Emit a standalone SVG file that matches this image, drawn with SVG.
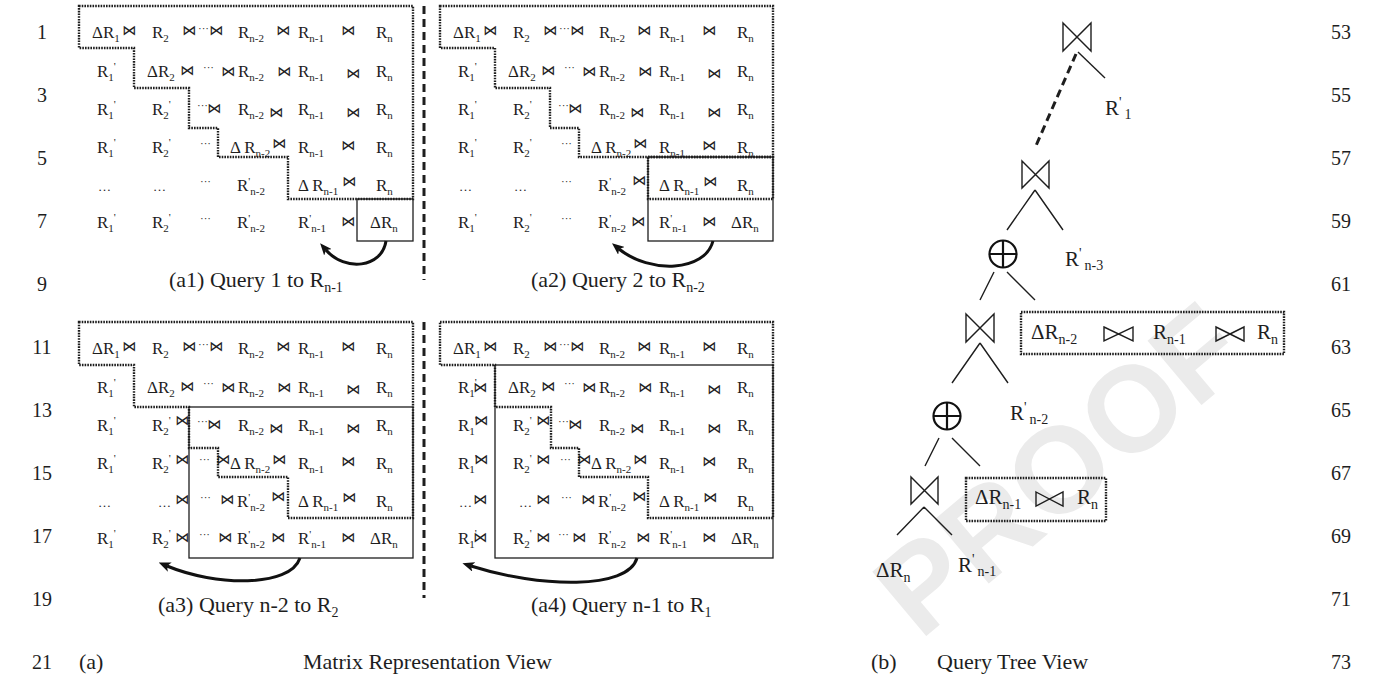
<svg xmlns="http://www.w3.org/2000/svg" width="1390" height="676" viewBox="0 0 1390 676">
<defs>
<style>
text{font-family:"Liberation Serif","Times New Roman",serif;fill:#1e1e1e}
.mx text{font-size:17px}
.s{font-size:11px}
.j{font-family:"DejaVu Sans",sans-serif!important;font-size:14px!important}
.d{font-size:11px!important}
.e{font-size:13px!important}
.dot{fill:none;stroke:#1e1e1e;stroke-width:2.4;stroke-dasharray:1.6 1.1}
.sol{fill:none;stroke:#1e1e1e;stroke-width:1.3}
.sep{fill:none;stroke:#1e1e1e;stroke-width:3;stroke-dasharray:8 5}
.arr{fill:none;stroke:#111;stroke-width:3;marker-end:url(#ah)}
.edge{fill:none;stroke:#1e1e1e;stroke-width:1.4}
.bt{fill:none;stroke:#1e1e1e;stroke-width:1.4;stroke-linejoin:miter}
.op{fill:none;stroke:#111;stroke-width:2.2}
.ln{font-size:20px}
.mx .cap,.cap{font-size:22px}
.tr{font-size:21px}
.s2{font-size:14px}
</style>
<marker id="ah" viewBox="0 0 12 10" refX="3" refY="5" markerWidth="12" markerHeight="10" markerUnits="userSpaceOnUse" orient="auto">
<path d="M0,0L12,5L0,10L3,5Z" fill="#111"/>
</marker>
</defs>
<rect width="1390" height="676" fill="#fff"/>
<text x="1058" y="512" text-anchor="middle" transform="rotate(-40 1058 468)" style="font-family:'Liberation Sans',Arial,sans-serif;font-size:122px;font-weight:bold;fill:#ebebeb">PROOF</text>

<g id="line-numbers">
<text class="ln" x="42" y="39" text-anchor="middle">1</text>
<text class="ln" x="42" y="102" text-anchor="middle">3</text>
<text class="ln" x="42" y="165" text-anchor="middle">5</text>
<text class="ln" x="42" y="228" text-anchor="middle">7</text>
<text class="ln" x="42" y="291" text-anchor="middle">9</text>
<text class="ln" x="42" y="354" text-anchor="middle">11</text>
<text class="ln" x="42" y="417" text-anchor="middle">13</text>
<text class="ln" x="42" y="480" text-anchor="middle">15</text>
<text class="ln" x="42" y="543" text-anchor="middle">17</text>
<text class="ln" x="42" y="606" text-anchor="middle">19</text>
<text class="ln" x="42" y="669" text-anchor="middle">21</text>
<text class="ln" x="1341" y="39" text-anchor="middle">53</text>
<text class="ln" x="1341" y="102" text-anchor="middle">55</text>
<text class="ln" x="1341" y="165" text-anchor="middle">57</text>
<text class="ln" x="1341" y="228" text-anchor="middle">59</text>
<text class="ln" x="1341" y="291" text-anchor="middle">61</text>
<text class="ln" x="1341" y="354" text-anchor="middle">63</text>
<text class="ln" x="1341" y="417" text-anchor="middle">65</text>
<text class="ln" x="1341" y="480" text-anchor="middle">67</text>
<text class="ln" x="1341" y="543" text-anchor="middle">69</text>
<text class="ln" x="1341" y="606" text-anchor="middle">71</text>
<text class="ln" x="1341" y="669" text-anchor="middle">73</text>
</g>

<!-- a1 -->
<g id="matrix-a1" class="mx">
<path class="dot" d="M79,6H413V199H288V157H218V128H189V88H134V48H79Z"/>
<rect class="sol" x="357" y="199" width="56" height="42"/>
<text x="92" y="38">ΔR<tspan class="s" dy="4">1</tspan></text><text class="j" x="122" y="35">⋈</text><text x="152" y="38">R<tspan class="s" dy="4">2</tspan></text><text class="j" x="182" y="35">⋈</text><text class="d" x="198" y="32">···</text><text class="j" x="209" y="35">⋈</text><text x="238" y="38">R<tspan class="s" dy="4">n-2</tspan></text><text class="j" x="276" y="35">⋈</text><text x="298" y="38">R<tspan class="s" dy="4">n-1</tspan></text><text class="j" x="341" y="35">⋈</text><text x="376" y="38">R<tspan class="s" dy="4">n</tspan></text>
<text x="97" y="77">R<tspan class="s" dy="4">1</tspan><tspan class="s" dy="-11">'</tspan></text><text x="147" y="77">ΔR<tspan class="s" dy="4">2</tspan></text><text class="j" x="180" y="75">⋈</text><text class="d" x="203" y="71">···</text><text class="j" x="221" y="76">⋈</text><text x="238" y="77">R<tspan class="s" dy="4">n-2</tspan></text><text class="j" x="277" y="76">⋈</text><text x="298" y="77">R<tspan class="s" dy="4">n-1</tspan></text><text class="j" x="346" y="78">⋈</text><text x="376" y="77">R<tspan class="s" dy="4">n</tspan></text>
<text x="97" y="115">R<tspan class="s" dy="4">1</tspan><tspan class="s" dy="-11">'</tspan></text><text x="152" y="115">R<tspan class="s" dy="4">2</tspan><tspan class="s" dy="-11">'</tspan></text><text class="d" x="197" y="109">···</text><text class="j" x="207" y="113">⋈</text><text x="238" y="115">R<tspan class="s" dy="4">n-2</tspan></text><text class="j" x="269" y="117">⋈</text><text x="298" y="115">R<tspan class="s" dy="4">n-1</tspan></text><text class="j" x="346" y="117">⋈</text><text x="376" y="115">R<tspan class="s" dy="4">n</tspan></text>
<text x="97" y="153">R<tspan class="s" dy="4">1</tspan><tspan class="s" dy="-11">'</tspan></text><text x="152" y="153">R<tspan class="s" dy="4">2</tspan><tspan class="s" dy="-11">'</tspan></text><text class="d" x="200" y="147">···</text><text x="230" y="153">Δ R<tspan class="s" dy="4">n-2</tspan></text><text class="j" x="272" y="148">⋈</text><text x="298" y="153">R<tspan class="s" dy="4">n-1</tspan></text><text class="j" x="341" y="150">⋈</text><text x="376" y="153">R<tspan class="s" dy="4">n</tspan></text>
<text class="e" x="98" y="191">…</text><text class="e" x="153" y="191">…</text><text class="d" x="200" y="185">···</text><text x="237" y="191">R<tspan class="s" dy="-6">'</tspan><tspan class="s" dy="10">n-2</tspan></text><text x="298" y="191">Δ R<tspan class="s" dy="4">n-1</tspan></text><text class="j" x="342" y="186">⋈</text><text x="376" y="191">R<tspan class="s" dy="4">n</tspan></text>
<text x="97" y="228">R<tspan class="s" dy="4">1</tspan><tspan class="s" dy="-11">'</tspan></text><text x="152" y="228">R<tspan class="s" dy="4">2</tspan><tspan class="s" dy="-11">'</tspan></text><text class="d" x="200" y="222">···</text><text x="237" y="228">R<tspan class="s" dy="-6">'</tspan><tspan class="s" dy="10">n-2</tspan></text><text x="298" y="228">R<tspan class="s" dy="-6">'</tspan><tspan class="s" dy="10">n-1</tspan></text><text class="j" x="341" y="226">⋈</text><text x="370" y="228">ΔR<tspan class="s" dy="4">n</tspan></text>
<text class="cap" x="169" y="287">(a1) Query 1 to R<tspan class="s2" dy="5">n-1</tspan></text>
</g>

<!-- a2 -->
<g id="matrix-a2" class="mx" transform="translate(361,0)">
<path class="dot" d="M79,6H412V157H218V128H189V88H134V48H79Z"/>
<rect class="dot" x="287" y="157" width="125" height="42"/>
<rect class="sol" x="287" y="157" width="125" height="84"/>
<text x="92" y="38">ΔR<tspan class="s" dy="4">1</tspan></text><text class="j" x="122" y="35">⋈</text><text x="152" y="38">R<tspan class="s" dy="4">2</tspan></text><text class="j" x="182" y="35">⋈</text><text class="d" x="198" y="32">···</text><text class="j" x="209" y="35">⋈</text><text x="238" y="38">R<tspan class="s" dy="4">n-2</tspan></text><text class="j" x="276" y="35">⋈</text><text x="298" y="38">R<tspan class="s" dy="4">n-1</tspan></text><text class="j" x="341" y="35">⋈</text><text x="376" y="38">R<tspan class="s" dy="4">n</tspan></text>
<text x="97" y="77">R<tspan class="s" dy="4">1</tspan><tspan class="s" dy="-11">'</tspan></text><text x="147" y="77">ΔR<tspan class="s" dy="4">2</tspan></text><text class="j" x="180" y="75">⋈</text><text class="d" x="203" y="71">···</text><text class="j" x="221" y="76">⋈</text><text x="238" y="77">R<tspan class="s" dy="4">n-2</tspan></text><text class="j" x="277" y="76">⋈</text><text x="298" y="77">R<tspan class="s" dy="4">n-1</tspan></text><text class="j" x="346" y="78">⋈</text><text x="376" y="77">R<tspan class="s" dy="4">n</tspan></text>
<text x="97" y="115">R<tspan class="s" dy="4">1</tspan><tspan class="s" dy="-11">'</tspan></text><text x="152" y="115">R<tspan class="s" dy="4">2</tspan><tspan class="s" dy="-11">'</tspan></text><text class="d" x="197" y="109">···</text><text class="j" x="207" y="113">⋈</text><text x="238" y="115">R<tspan class="s" dy="4">n-2</tspan></text><text class="j" x="269" y="117">⋈</text><text x="298" y="115">R<tspan class="s" dy="4">n-1</tspan></text><text class="j" x="346" y="117">⋈</text><text x="376" y="115">R<tspan class="s" dy="4">n</tspan></text>
<text x="97" y="153">R<tspan class="s" dy="4">1</tspan><tspan class="s" dy="-11">'</tspan></text><text x="152" y="153">R<tspan class="s" dy="4">2</tspan><tspan class="s" dy="-11">'</tspan></text><text class="d" x="200" y="147">···</text><text x="230" y="153">Δ R<tspan class="s" dy="4">n-2</tspan></text><text class="j" x="272" y="148">⋈</text><text x="298" y="153">R<tspan class="s" dy="4">n-1</tspan></text><text class="j" x="341" y="150">⋈</text><text x="376" y="153">R<tspan class="s" dy="4">n</tspan></text>
<text class="e" x="98" y="191">…</text><text class="e" x="153" y="191">…</text><text class="d" x="200" y="185">···</text><text x="237" y="191">R<tspan class="s" dy="-6">'</tspan><tspan class="s" dy="10">n-2</tspan></text><text class="j" x="271" y="185">⋈</text><text x="298" y="191">Δ R<tspan class="s" dy="4">n-1</tspan></text><text class="j" x="342" y="186">⋈</text><text x="376" y="191">R<tspan class="s" dy="4">n</tspan></text>
<text x="97" y="228">R<tspan class="s" dy="4">1</tspan><tspan class="s" dy="-11">'</tspan></text><text x="152" y="228">R<tspan class="s" dy="4">2</tspan><tspan class="s" dy="-11">'</tspan></text><text class="d" x="200" y="222">···</text><text x="237" y="228">R<tspan class="s" dy="-6">'</tspan><tspan class="s" dy="10">n-2</tspan></text><text class="j" x="270" y="226">⋈</text><text x="298" y="228">R<tspan class="s" dy="-6">'</tspan><tspan class="s" dy="10">n-1</tspan></text><text class="j" x="341" y="226">⋈</text><text x="370" y="228">ΔR<tspan class="s" dy="4">n</tspan></text>
<text class="cap" x="170" y="287">(a2) Query 2 to R<tspan class="s2" dy="5">n-2</tspan></text>
</g>

<!-- a3 -->
<g id="matrix-a3" class="mx" transform="translate(0,316)">
<path class="dot" d="M79,6H413V202H288V161H218V132H189V91H134V49H79Z"/>
<rect class="sol" x="189" y="91" width="224" height="151"/>
<text x="92" y="38">ΔR<tspan class="s" dy="4">1</tspan></text><text class="j" x="122" y="35">⋈</text><text x="152" y="38">R<tspan class="s" dy="4">2</tspan></text><text class="j" x="182" y="35">⋈</text><text class="d" x="198" y="32">···</text><text class="j" x="209" y="35">⋈</text><text x="238" y="38">R<tspan class="s" dy="4">n-2</tspan></text><text class="j" x="276" y="35">⋈</text><text x="298" y="38">R<tspan class="s" dy="4">n-1</tspan></text><text class="j" x="341" y="35">⋈</text><text x="376" y="38">R<tspan class="s" dy="4">n</tspan></text>
<text x="97" y="77">R<tspan class="s" dy="4">1</tspan><tspan class="s" dy="-11">'</tspan></text><text x="147" y="77">ΔR<tspan class="s" dy="4">2</tspan></text><text class="j" x="180" y="75">⋈</text><text class="d" x="203" y="71">···</text><text class="j" x="221" y="76">⋈</text><text x="238" y="77">R<tspan class="s" dy="4">n-2</tspan></text><text class="j" x="277" y="76">⋈</text><text x="298" y="77">R<tspan class="s" dy="4">n-1</tspan></text><text class="j" x="346" y="78">⋈</text><text x="376" y="77">R<tspan class="s" dy="4">n</tspan></text>
<text x="97" y="115">R<tspan class="s" dy="4">1</tspan><tspan class="s" dy="-11">'</tspan></text><text x="152" y="115">R<tspan class="s" dy="4">2</tspan><tspan class="s" dy="-11">'</tspan></text><text class="j" x="175" y="109">⋈</text><text class="d" x="197" y="109">···</text><text class="j" x="207" y="113">⋈</text><text x="238" y="115">R<tspan class="s" dy="4">n-2</tspan></text><text class="j" x="269" y="117">⋈</text><text x="298" y="115">R<tspan class="s" dy="4">n-1</tspan></text><text class="j" x="346" y="117">⋈</text><text x="376" y="115">R<tspan class="s" dy="4">n</tspan></text>
<text x="97" y="153">R<tspan class="s" dy="4">1</tspan><tspan class="s" dy="-11">'</tspan></text><text x="152" y="153">R<tspan class="s" dy="4">2</tspan><tspan class="s" dy="-11">'</tspan></text><text class="j" x="175" y="148">⋈</text><text class="d" x="199" y="147">···</text><text class="j" x="216" y="148">⋈</text><text x="230" y="153">Δ R<tspan class="s" dy="4">n-2</tspan></text><text class="j" x="272" y="148">⋈</text><text x="298" y="153">R<tspan class="s" dy="4">n-1</tspan></text><text class="j" x="341" y="150">⋈</text><text x="376" y="153">R<tspan class="s" dy="4">n</tspan></text>
<text class="e" x="98" y="191">…</text><text class="e" x="158" y="191">…</text><text class="j" x="175" y="188">⋈</text><text class="d" x="200" y="185">···</text><text class="j" x="220" y="188">⋈</text><text x="237" y="191">R<tspan class="s" dy="-6">'</tspan><tspan class="s" dy="10">n-2</tspan></text><text class="j" x="271" y="185">⋈</text><text x="298" y="191">Δ R<tspan class="s" dy="4">n-1</tspan></text><text class="j" x="342" y="186">⋈</text><text x="376" y="191">R<tspan class="s" dy="4">n</tspan></text>
<text x="97" y="228">R<tspan class="s" dy="4">1</tspan><tspan class="s" dy="-11">'</tspan></text><text x="152" y="228">R<tspan class="s" dy="4">2</tspan><tspan class="s" dy="-11">'</tspan></text><text class="j" x="175" y="226">⋈</text><text class="d" x="199" y="222">···</text><text class="j" x="218" y="226">⋈</text><text x="237" y="228">R<tspan class="s" dy="-6">'</tspan><tspan class="s" dy="10">n-2</tspan></text><text class="j" x="271" y="226">⋈</text><text x="298" y="228">R<tspan class="s" dy="-6">'</tspan><tspan class="s" dy="10">n-1</tspan></text><text class="j" x="341" y="226">⋈</text><text x="370" y="228">ΔR<tspan class="s" dy="4">n</tspan></text>
<text class="cap" x="158" y="296">(a3) Query n-2 to R<tspan class="s2" dy="5">2</tspan></text>
</g>

<!-- a4 -->
<g id="matrix-a4" class="mx" transform="translate(361,316)">
<path class="dot" d="M79,6H412V202H287V161H218V132H190V91H134V49H79Z"/>
<rect class="sol" x="134" y="49" width="278" height="193"/>
<text x="92" y="38">ΔR<tspan class="s" dy="4">1</tspan></text><text class="j" x="122" y="35">⋈</text><text x="152" y="38">R<tspan class="s" dy="4">2</tspan></text><text class="j" x="182" y="35">⋈</text><text class="d" x="198" y="32">···</text><text class="j" x="209" y="35">⋈</text><text x="238" y="38">R<tspan class="s" dy="4">n-2</tspan></text><text class="j" x="276" y="35">⋈</text><text x="298" y="38">R<tspan class="s" dy="4">n-1</tspan></text><text class="j" x="341" y="35">⋈</text><text x="376" y="38">R<tspan class="s" dy="4">n</tspan></text>
<text x="97" y="77">R<tspan class="s" dy="4">1</tspan><tspan class="s" dy="-11">'</tspan></text><text class="j" x="112" y="76">⋈</text><text x="147" y="77">ΔR<tspan class="s" dy="4">2</tspan></text><text class="j" x="180" y="75">⋈</text><text class="d" x="203" y="71">···</text><text class="j" x="221" y="76">⋈</text><text x="238" y="77">R<tspan class="s" dy="4">n-2</tspan></text><text class="j" x="277" y="76">⋈</text><text x="298" y="77">R<tspan class="s" dy="4">n-1</tspan></text><text class="j" x="346" y="78">⋈</text><text x="376" y="77">R<tspan class="s" dy="4">n</tspan></text>
<text x="97" y="115">R<tspan class="s" dy="4">1</tspan><tspan class="s" dy="-11">'</tspan></text><text class="j" x="113" y="109">⋈</text><text x="152" y="115">R<tspan class="s" dy="4">2</tspan><tspan class="s" dy="-11">'</tspan></text><text class="j" x="175" y="109">⋈</text><text class="d" x="197" y="109">···</text><text class="j" x="207" y="113">⋈</text><text x="238" y="115">R<tspan class="s" dy="4">n-2</tspan></text><text class="j" x="269" y="117">⋈</text><text x="298" y="115">R<tspan class="s" dy="4">n-1</tspan></text><text class="j" x="346" y="117">⋈</text><text x="376" y="115">R<tspan class="s" dy="4">n</tspan></text>
<text x="97" y="153">R<tspan class="s" dy="4">1</tspan><tspan class="s" dy="-11">'</tspan></text><text class="j" x="113" y="148">⋈</text><text x="152" y="153">R<tspan class="s" dy="4">2</tspan><tspan class="s" dy="-11">'</tspan></text><text class="j" x="175" y="148">⋈</text><text class="d" x="199" y="147">···</text><text class="j" x="216" y="148">⋈</text><text x="230" y="153">Δ R<tspan class="s" dy="4">n-2</tspan></text><text class="j" x="272" y="148">⋈</text><text x="298" y="153">R<tspan class="s" dy="4">n-1</tspan></text><text class="j" x="341" y="150">⋈</text><text x="376" y="153">R<tspan class="s" dy="4">n</tspan></text>
<text class="e" x="98" y="191">…</text><text class="j" x="112" y="188">⋈</text><text class="e" x="158" y="191">…</text><text class="j" x="175" y="188">⋈</text><text class="d" x="200" y="185">···</text><text class="j" x="220" y="188">⋈</text><text x="237" y="191">R<tspan class="s" dy="-6">'</tspan><tspan class="s" dy="10">n-2</tspan></text><text class="j" x="271" y="185">⋈</text><text x="298" y="191">Δ R<tspan class="s" dy="4">n-1</tspan></text><text class="j" x="342" y="186">⋈</text><text x="376" y="191">R<tspan class="s" dy="4">n</tspan></text>
<text x="97" y="228">R<tspan class="s" dy="4">1</tspan><tspan class="s" dy="-11">'</tspan></text><text class="j" x="112" y="226">⋈</text><text x="152" y="228">R<tspan class="s" dy="4">2</tspan><tspan class="s" dy="-11">'</tspan></text><text class="j" x="175" y="226">⋈</text><text class="d" x="197" y="222">···</text><text class="j" x="211" y="226">⋈</text><text x="237" y="228">R<tspan class="s" dy="-6">'</tspan><tspan class="s" dy="10">n-2</tspan></text><text class="j" x="275" y="226">⋈</text><text x="298" y="228">R<tspan class="s" dy="-6">'</tspan><tspan class="s" dy="10">n-1</tspan></text><text class="j" x="341" y="226">⋈</text><text x="370" y="228">ΔR<tspan class="s" dy="4">n</tspan></text>
<text class="cap" x="170" y="296">(a4) Query n-1 to R<tspan class="s2" dy="5">1</tspan></text>
</g>

<g id="labels-bottom">
<text class="cap" x="79" y="669">(a)</text>
<text class="cap" x="303" y="669">Matrix Representation View</text>
<text class="cap" x="871" y="669">(b)</text>
<text class="cap" x="937" y="669">Query Tree View</text>
</g>

<!-- tree nodes -->
<g id="join-top"><path class="bt" d="M1063,23L1091,51L1091,23L1063,51Z"/></g>
<g id="leaf-r1"><text class="tr" x="1105" y="115">R<tspan class="s2" dy="-8">'</tspan><tspan class="s2" dx="3" dy="12">1</tspan></text></g>
<g id="join-2"><path class="bt" d="M1022,161L1049,188L1049,161L1022,188Z"/></g>
<g id="leaf-rn3"><text class="tr" x="1065" y="266">R<tspan class="s2" dy="-8">'</tspan><tspan class="s2" dx="3" dy="12">n-3</tspan></text></g>
<g id="union-1"><circle class="op" cx="1003" cy="254" r="13.5"/><path class="op" d="M1003,240.5V267.5M989.5,254H1016.5"/></g>
<g id="join-3"><path class="bt" d="M966,314L994,342L994,314L966,342Z"/></g>
<g id="delta-box-1">
<rect class="dot" x="1021" y="312" width="263" height="42"/>
<text class="tr" x="1031" y="339">ΔR<tspan class="s2" dy="5">n-2</tspan></text>
<path class="bt" d="M1104,327L1133,341L1133,327L1104,341Z"/>
<text class="tr" x="1153" y="339">R<tspan class="s2" dy="5">n-1</tspan></text>
<path class="bt" d="M1216,327L1244,341L1244,327L1216,341Z"/>
<text class="tr" x="1257" y="339">R<tspan class="s2" dy="5">n</tspan></text>
</g>
<g id="union-2"><circle class="op" cx="947" cy="416" r="13.5"/><path class="op" d="M947,402.5V429.5M933.5,416H960.5"/></g>
<g id="leaf-rn2"><text class="tr" x="1010" y="420">R<tspan class="s2" dy="-8">'</tspan><tspan class="s2" dx="3" dy="12">n-2</tspan></text></g>
<g id="join-4"><path class="bt" d="M911,477L938,504L938,477L911,504Z"/></g>
<g id="delta-box-2">
<rect class="dot" x="966" y="478" width="140" height="43"/>
<text class="tr" x="975" y="504">ΔR<tspan class="s2" dy="5">n-1</tspan></text>
<path class="bt" d="M1036,492L1063,506L1063,492L1036,506Z"/>
<text class="tr" x="1077" y="504">R<tspan class="s2" dy="5">n</tspan></text>
</g>
<g id="leaf-drn"><text class="tr" x="876" y="577">ΔR<tspan class="s2" dy="5">n</tspan></text></g>
<g id="leaf-rn1"><text class="tr" x="958" y="572">R<tspan class="s2" dy="-8">'</tspan><tspan class="s2" dx="3" dy="12">n-1</tspan></text></g>

<g id="connectors">
<path class="sep" d="M424,6V280M424,322V598"/>
<path class="arr" d="M386,241C382,268 345,272 326,250"/>
<path class="arr" d="M713,241C705,272 650,274 619,249"/>
<path class="arr" d="M300,558C290,588 215,586 167,566"/>
<path class="arr" d="M637,558C628,590 540,588 471,566"/>
<path class="edge" d="M1078,52L1105,78"/>
<path class="sep" d="M1076,54L1035,148"/>
<path class="edge" d="M1035,190L1007,230M1035,190L1063,230"/>
<path class="edge" d="M994,272L980,300M1007,272L1035,300"/>
<path class="edge" d="M980,343L952,383M980,343L1008,383"/>
<path class="edge" d="M939,438L925,466M952,438L980,466"/>
<path class="edge" d="M924,507L897,535M924,507L952,535"/>
</g>
</svg>
